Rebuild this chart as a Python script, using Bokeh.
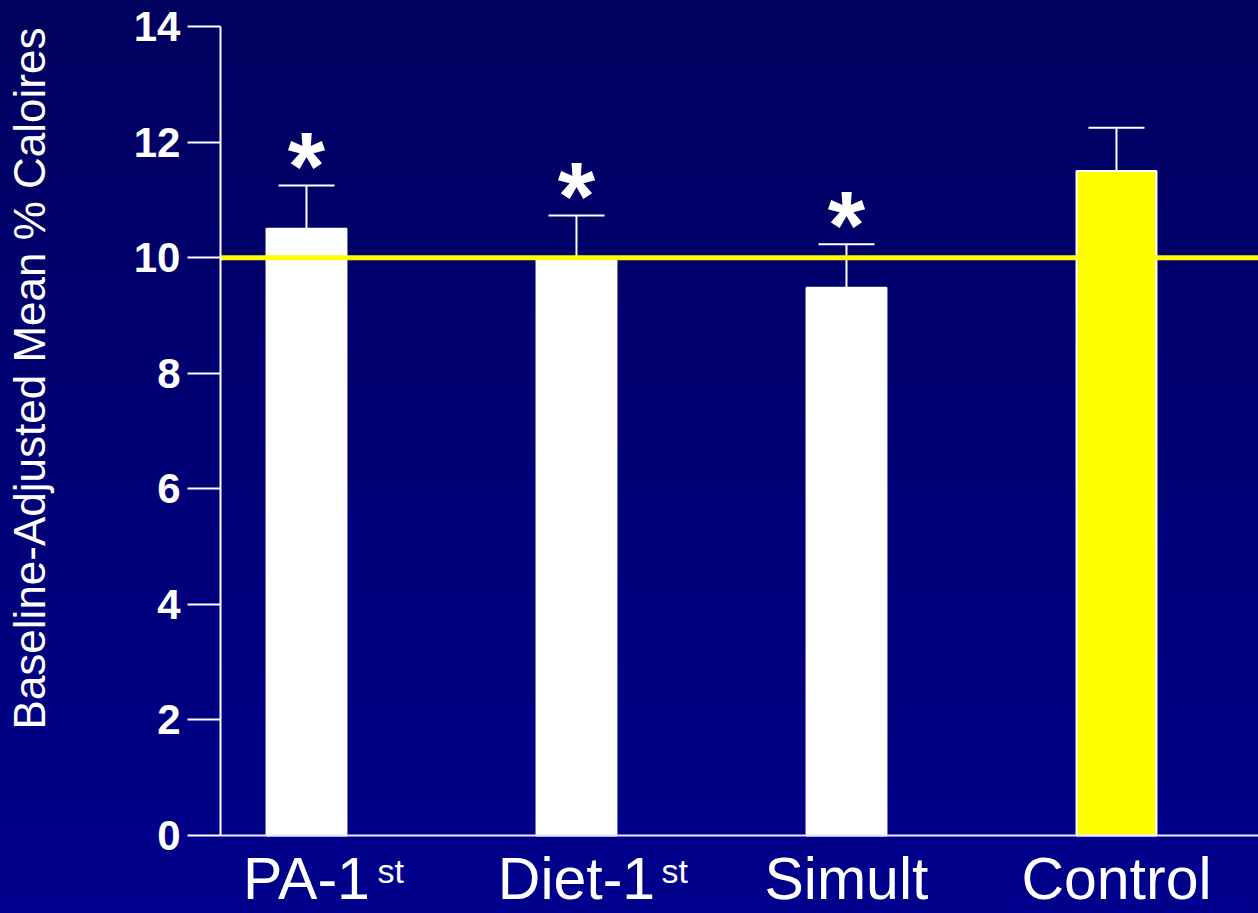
import numpy as np
from bokeh.plotting import figure
from bokeh.models import ColumnDataSource, Range1d, FixedTicker, Whisker, TeeHead
from bokeh.core.properties import value
from bokeh.embed import file_html
from bokeh.resources import INLINE

# ---- data ----
groups = ["PA-1", "Diet-1", "Simult", "Control"]
group_sup = ["st", "st", "", ""]
means = [10.5, 10.0, 9.48, 11.5]
errors = [0.75, 0.73, 0.75, 0.75]
significant = [True, True, True, False]
bar_colors = ["#FFFFFF", "#FFFFFF", "#FFFFFF", "#FFFF00"]
reference_value = 10
y_ticks = [0, 2, 4, 6, 8, 10, 12, 14]
y_title = "Baseline-Adjusted Mean % Caloires"

FONT = "Liberation Sans"
W, H = 1258, 913

# layout: the frame covers the whole canvas, axes sit at fixed locations
X_START, X_END = -1.1333, 3.526
Y_START, Y_END = -1.3495, 14.45
Y_AXIS_AT = -0.3185

xs = list(range(len(groups)))
upper = [m + e for m, e in zip(means, errors)]
src = ColumnDataSource(dict(x=xs, top=means, upper=upper, color=bar_colors))
star_src = ColumnDataSource(dict(
    x=[x for x, s in zip(xs, significant) if s],
    y=[u for u, s in zip(upper, significant) if s],
    t=["*" for s in significant if s],
))
sup_x = [x for x, s in zip(xs, group_sup) if s]
sup_src = ColumnDataSource(dict(
    x=sup_x,
    y=[0 for _ in sup_x],
    t=[s for s in group_sup if s],
    dx=[71, 85][:len(sup_x)],
))

p = figure(width=W, height=H, output_backend="svg", toolbar_location=None,
           x_range=Range1d(X_START, X_END), y_range=Range1d(Y_START, Y_END),
           min_border=0, min_border_left=0, min_border_right=0,
           min_border_top=0, min_border_bottom=0)
p.styles = {"position": "fixed", "left": "0px", "top": "0px",
            "background": "linear-gradient(to bottom, #00005E, #00008C)"}
p.border_fill_alpha = 0
p.background_fill_alpha = 0
p.outline_line_color = None
p.grid.visible = False

p.vbar(x="x", top="top", bottom=0, width=0.296, source=src,
       fill_color="color", line_color="#FFFFFF", line_width=2)

wh = Whisker(base="x", lower="top", upper="upper", source=src, dimension="height",
             line_color="#FFFFFF", line_width=2, lower_head=None,
             upper_head=TeeHead(size=56, line_color="#FFFFFF", line_width=2))
p.add_layout(wh)

# reference line at 10, from the y axis to the right edge
p.segment(x0=[Y_AXIS_AT], y0=[reference_value], x1=[X_END], y1=[reference_value],
          line_color="#FFFF00", line_width=5)

# significance stars
p.text(x="x", y="y", text="t", source=star_src, text_color="#FFFFFF",
       text_font=value(FONT), text_font_style="bold", text_font_size="96px",
       text_align="center", text_baseline="alphabetic", y_offset=-20)

# y axis
ya = p.yaxis[0]
ya.fixed_location = Y_AXIS_AT
ya.bounds = (0, 14)
ya.ticker = FixedTicker(ticks=y_ticks)
ya.axis_line_color = "#FFFFFF"
ya.axis_line_width = 2
ya.major_tick_line_color = "#FFFFFF"
ya.major_tick_line_width = 2
ya.major_tick_out = 33
ya.major_tick_in = 0
ya.minor_tick_line_color = None
ya.major_label_text_color = "#FFFFFF"
ya.major_label_text_font = FONT
ya.major_label_text_font_style = "bold"
ya.major_label_text_font_size = "42px"
ya.major_label_standoff = 7

# x axis
xa = p.xaxis[0]
xa.fixed_location = 0
xa.bounds = (Y_AXIS_AT, X_END)
xa.ticker = FixedTicker(ticks=xs)
xa.major_label_overrides = {i: g for i, g in zip(xs, groups)}
xa.axis_line_color = "#E8E8FF"
xa.axis_line_width = 2
xa.major_tick_line_color = None
xa.minor_tick_line_color = None
xa.major_tick_out = 0
xa.major_tick_in = 0
xa.major_label_text_color = "#FFFFFF"
xa.major_label_text_font = FONT
xa.major_label_text_font_size = "59px"
xa.major_label_standoff = 10

# superscripts "st"
p.text(x="x", y="y", text="t", source=sup_src, x_offset="dx", y_offset=35,
       text_color="#FFFFFF", text_font=value(FONT), text_font_size="34px",
       text_align="left", text_baseline="alphabetic")

# y axis title
p.text(x=[X_START], y=[Y_END], text=[y_title], x_offset=29, y_offset=378,
       angle=np.pi / 2, text_color="#FFFFFF", text_font=value(FONT),
       text_font_size="44px", text_align="center", text_baseline="alphabetic")

open("out.html", "w").write(file_html(p, INLINE))
